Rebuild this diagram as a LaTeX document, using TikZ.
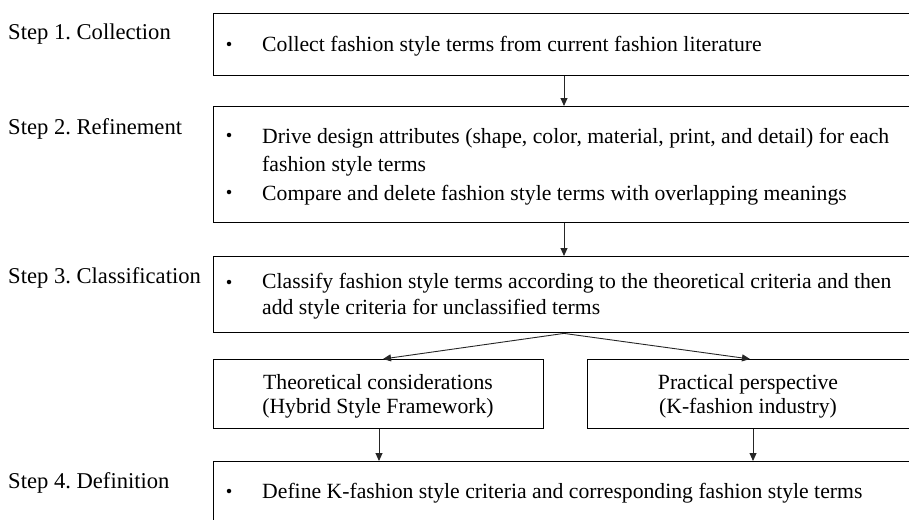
\documentclass[tikz,border=0pt]{standalone}
\usepackage{fontspec}
\setmainfont{Liberation Serif}
\usetikzlibrary{arrows.meta}
\frenchspacing
\begin{document}
\begin{tikzpicture}[x=1pt,y=-1pt,
  box/.style={draw=black,line width=1.4pt,inner sep=0pt,anchor=north west},
  arr/.style={draw=black!85,line width=0.9pt,-{Triangle[length=8pt,width=7pt]}},
  txt/.style={anchor=base west,inner sep=0pt,font=\fontsize{21.7}{26}\selectfont},
  steptxt/.style={anchor=base west,inner sep=0pt,font=\fontsize{22.6}{26}\selectfont},
  ctxt/.style={anchor=base,inner sep=0pt,font=\fontsize{21.7}{26}\selectfont},
  bul/.style={circle,fill=black,inner sep=0pt,minimum size=4.5pt}]
\useasboundingbox (0,0) rectangle (909,519);
\clip (0,0) rectangle (909,519);
% boxes
\node[box,minimum width=700pt,minimum height=62pt] (b1) at (213,13) {};
\node[box,minimum width=700pt,minimum height=116pt] (b2) at (213,106) {};
\node[box,minimum width=700pt,minimum height=76pt] (b3) at (213,256) {};
\node[box,minimum width=330pt,minimum height=69pt] (b4a) at (213,359) {};
\node[box,minimum width=325pt,minimum height=69pt] (b4b) at (587,359) {};
\node[box,minimum width=700pt,minimum height=90pt] (b5) at (213,461) {};
% step labels
\node[steptxt] (s1) at (8,40) {Step 1. Collection};
\node[steptxt] (s2) at (8,134) {Step 2. Refinement};
\node[steptxt] (s3) at (8,283) {Step 3. Classification};
\node[steptxt] (s4) at (8,488) {Step 4. Definition};
% box texts
\node[bul] (d1) at (229,44) {};
\node[txt] (t1) at (262,52) {Collect fashion style terms from current fashion literature};
\node[bul] (d2a) at (229,135) {};
\node[txt] (t2a) at (262,143) {Drive design attributes (shape, color, material, print, and detail) for each};
\node[txt] (t2b) at (262,171) {fashion style terms};
\node[bul] (d2b) at (229,192) {};
\node[txt] (t2c) at (262,200) {Compare and delete fashion style terms with overlapping meanings};
\node[bul] (d3) at (229,282) {};
\node[txt] (t3a) at (262,288) {Classify fashion style terms according to the theoretical criteria and then};
\node[txt] (t3b) at (262,314) {add style criteria for unclassified terms};
\node[ctxt] (t4a1) at (378,389) {Theoretical considerations};
\node[ctxt] (t4a2) at (378,413) {(Hybrid Style Framework)};
\node[ctxt] (t4b1) at (748,389) {Practical perspective};
\node[ctxt] (t4b2) at (748,413) {(K-fashion industry)};
\node[bul] (d5) at (229,491) {};
\node[txt] (t5) at (262,498) {Define K-fashion style criteria and corresponding fashion style terms};
% connectors
\coordinate (xm) at (564,0);
\coordinate (xl) at (383,0);
\coordinate (xr) at (750,0);
\coordinate (xdl) at (379,0);
\coordinate (xdr) at (753,0);
\draw[arr] (b1.south -| xm) -- (b2.north -| xm);
\draw[arr] (b2.south -| xm) -- (b3.north -| xm);
\draw[arr] (b3.south -| xm) -- (b4a.north -| xl);
\draw[arr] (b3.south -| xm) -- (b4b.north -| xr);
\draw[arr] (b4a.south -| xdl) -- (b5.north -| xdl);
\draw[arr] (b4b.south -| xdr) -- (b5.north -| xdr);
\end{tikzpicture}
\end{document}
